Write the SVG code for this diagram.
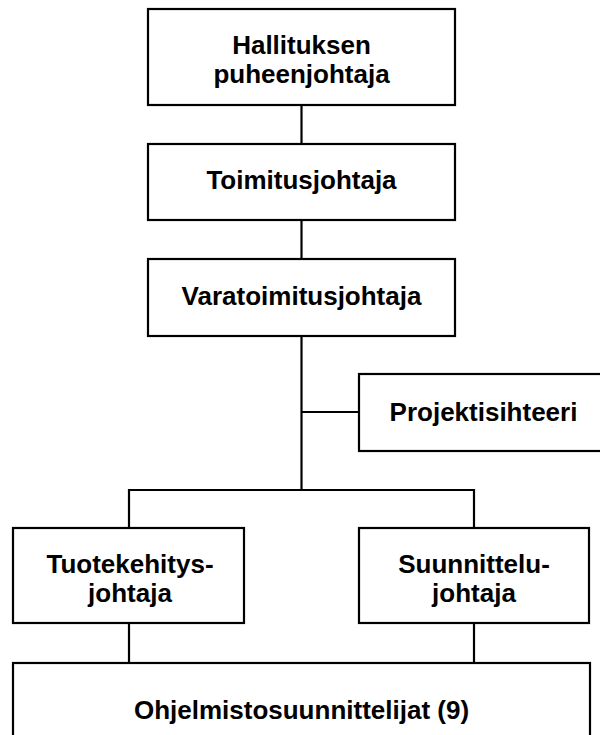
<svg xmlns="http://www.w3.org/2000/svg" width="600" height="735" viewBox="0 0 600 735">
  <style>
    .box { fill: #ffffff; stroke: #000000; stroke-width: 2.2; }
    .link { fill: none; stroke: #000000; stroke-width: 2.2; }
    .label { font-family: "Liberation Sans", Arial, sans-serif; font-weight: bold; font-size: 26px; fill: #000000; text-anchor: middle; }
  </style>
  <rect width="600" height="735" fill="#ffffff"/>

  <!-- reporting lines -->
  <g id="connectors">
    <path class="link" d="M301.5 105 V144"/>
    <path class="link" d="M301.5 220 V259"/>
    <path class="link" d="M301.5 336 V490"/>
    <path class="link" d="M301.5 412 H359"/>
    <path class="link" d="M129 528 V490 H474 V528"/>
    <path class="link" d="M129 623 V663"/>
    <path class="link" d="M474 623 V663"/>
  </g>

  <g id="chair">
    <rect class="box" x="148" y="9" width="307" height="96"/>
    <text class="label" x="301.5" y="54">Hallituksen</text>
    <text class="label" x="301.5" y="83">puheenjohtaja</text>
  </g>

  <g id="ceo">
    <rect class="box" x="148" y="144" width="307" height="76"/>
    <text class="label" x="301.5" y="189">Toimitusjohtaja</text>
  </g>

  <g id="deputy-ceo">
    <rect class="box" x="148" y="259" width="307" height="77"/>
    <text class="label" x="301.5" y="305">Varatoimitusjohtaja</text>
  </g>

  <g id="project-secretary">
    <rect class="box" x="359" y="374" width="250" height="77"/>
    <text class="label" x="483.5" y="421">Projektisihteeri</text>
  </g>

  <g id="rd-director">
    <rect class="box" x="13" y="528" width="231" height="95"/>
    <text class="label" x="130" y="573">Tuotekehitys-</text>
    <text class="label" x="130" y="602">johtaja</text>
  </g>

  <g id="design-director">
    <rect class="box" x="359" y="528" width="230" height="95"/>
    <text class="label" x="474" y="573">Suunnittelu-</text>
    <text class="label" x="474" y="602">johtaja</text>
  </g>

  <g id="software-designers">
    <rect class="box" x="13" y="663" width="577" height="90"/>
    <text class="label" x="301.5" y="719">Ohjelmistosuunnittelijat (9)</text>
  </g>
</svg>
